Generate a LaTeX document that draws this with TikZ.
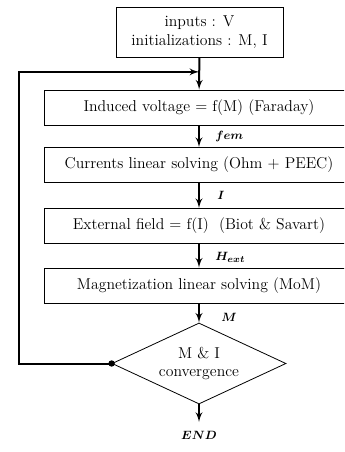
\documentclass[tikz,border=0pt]{standalone}
\usepackage{amsmath}
\usepackage{bm}
\usepackage{tikz}
\usetikzlibrary{arrows}
\usetikzlibrary{calc}
\usetikzlibrary{shapes.geometric}

\tikzset{
  stepbox/.style={draw,rectangle,line width=0.6pt,minimum width=232.5pt,minimum height=26.25pt,inner sep=0pt},
  flow/.style={draw,line width=1.5pt,->,>=latex'},
  varlabel/.style={inner sep=0pt,anchor=west,font=\fontsize{9.5}{11}\selectfont}
}

\begin{document}
\begin{tikzpicture}[x=0.75pt,y=-0.75pt,font=\fontsize{11.8}{14}\selectfont]

  \useasboundingbox (0,0) rectangle (344,452);
  \clip (0,0) rectangle (344,452);

  \node [draw,rectangle,line width=0.6pt,minimum width=125.25pt,minimum height=37.5pt,align=center] (init) at (199.5,32)
    {inputs : V\\initializations : M, I};

  \node [stepbox] (faraday) at (199,107.5) {Induced voltage = f(M) (Faraday)};
  \node [stepbox] (ohm)     at (199,165)   {Currents linear solving (Ohm + PEEC)};
  \node [stepbox] (biot)    at (199,226)   {External field = f(I)\ \ (Biot \& Savart)};
  \node [stepbox] (mom)     at (199,285.5) {Magnetization linear solving (MoM)};

  \node [draw,diamond,line width=0.6pt,aspect=2.15,inner sep=0pt,minimum width=130.5pt,minimum height=60.75pt,align=center] (conv) at (199,363.5)
    {M \& I\\convergence};

  \node [inner sep=0pt,anchor=north,font=\fontsize{9.5}{11}\selectfont] (end) at (199,431) {$\bm{END}$};

  \node [varlabel] (fem)  at (215,137) {$\bm{fem}$};
  \node [varlabel] (cur)  at (217,195) {$\bm{I}$};
  \node [varlabel] (hext) at (215,257) {$\bm{H_{ext}}$};
  \node [varlabel] (mag)  at (221,317) {$\bm{M}$};

  \coordinate (join)    at ($(init.south)!0.45!(faraday.north)$);
  \coordinate (loopbot) at (19,363.5);
  \coordinate (looptop) at (loopbot |- join);

  \path [flow]
    (init)    edge (faraday)
    (faraday) edge (ohm)
    (ohm)     edge (biot)
    (biot)    edge (mom)
    (mom)     edge (conv)
    (conv)    edge ($(end.north)+(0,-9)$);

  \draw [line width=1.5pt,->,>=latex',line join=miter] (conv.west) -- (loopbot) -- (looptop) -- (join);
  \fill (conv.west) circle (3.2);

\end{tikzpicture}
\end{document}
